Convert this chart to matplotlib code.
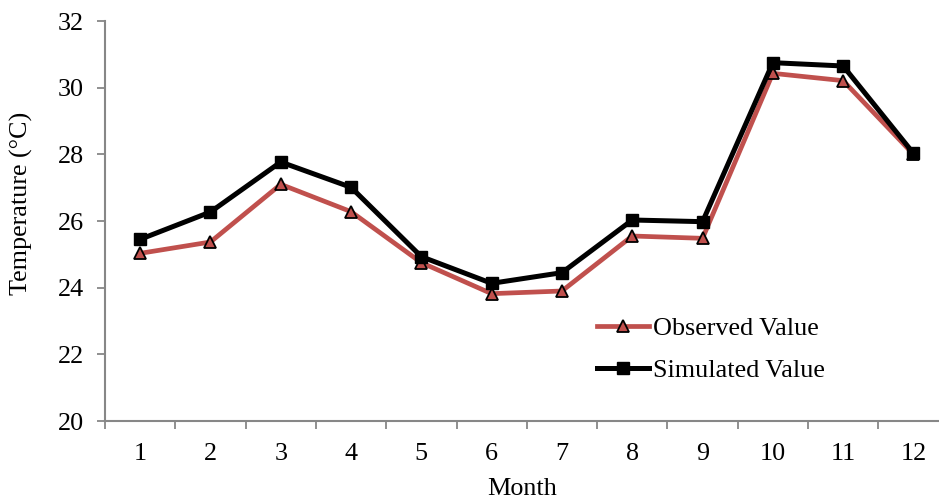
import matplotlib
matplotlib.use("Agg")
import matplotlib.pyplot as plt
import numpy as np

months = [1, 2, 3, 4, 5, 6, 7, 8, 9, 10, 11, 12]
month_labels = [str(m) for m in months]
observed = [25.03, 25.37, 27.10, 26.28, 24.75, 23.82, 23.90, 25.55, 25.48, 30.43, 30.21, 28.00]
simulated = [25.45, 26.27, 27.77, 27.01, 24.93, 24.13, 24.45, 26.03, 25.98, 30.75, 30.65, 28.03]
yticks = [20, 22, 24, 26, 28, 30, 32]

plt.rcParams['font.family'] = ['Liberation Serif', 'DejaVu Serif']
FS = 18.8

W, H = 939, 498
fig = plt.figure(figsize=(W / 100, H / 100), dpi=100)
left_px, right_px, top_px, bottom_px = 105, 939, 21, 421
ax = fig.add_axes([left_px / W, 1 - bottom_px / H, (right_px - left_px) / W, (bottom_px - top_px) / H])

spacing = 70.3
ax.set_xlim(0.5, 0.5 + (right_px - left_px) / spacing)
ax.set_ylim(20, 32)

gray = '#878787'
red = '#C0504D'

ax.plot(months, observed, color=red, lw=3.4, marker='^', markersize=8,
        markerfacecolor=red, markeredgecolor='black', markeredgewidth=1.3,
        label='Observed Value', zorder=3, solid_joinstyle='miter')
ax.plot(months, simulated, color='black', lw=3.6, marker='s', markersize=8.5,
        markerfacecolor='black', markeredgecolor='black',
        label='Simulated Value', zorder=4, solid_joinstyle='miter')

for s in ['top', 'right']:
    ax.spines[s].set_visible(False)
for s in ['left', 'bottom']:
    ax.spines[s].set_color(gray)
    ax.spines[s].set_linewidth(1.5)

ax.set_yticks(yticks)
ax.set_yticklabels([str(v) for v in yticks])
ax.tick_params(axis='y', direction='out', length=6, width=1.3, color=gray,
               labelsize=FS, pad=9, labelcolor='black')

ax.set_xticks(months)
ax.set_xticklabels(month_labels)
ax.set_xticks(np.arange(0.5, 12.5, 1.0), minor=True)
ax.tick_params(axis='x', which='major', length=0, labelsize=FS, pad=16)
ax.tick_params(axis='x', which='minor', direction='out', length=6, width=1.3, color=gray)

ax.set_xlabel('Month', fontsize=FS, labelpad=9)
ax.set_ylabel('Temperature (°C)', fontsize=FS)
ax.yaxis.label.set_va('center')
ax.yaxis.set_label_coords((21 - left_px) / (right_px - left_px), (bottom_px - 203) / (bottom_px - top_px))

leg = ax.legend(loc='upper left', bbox_to_anchor=((597 - left_px) / (right_px - left_px), (bottom_px - 317) / (bottom_px - top_px)),
                frameon=False, fontsize=FS, handlelength=2.0, handletextpad=0.15,
                labelspacing=0.72, borderaxespad=0, borderpad=0)

fig.savefig('out.png', dpi=100)
